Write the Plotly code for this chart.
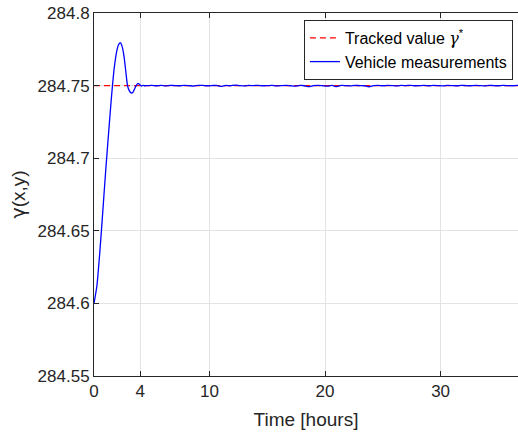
import plotly.graph_objects as go

# ---- data ----
tracked_time = [0.0, 36.7]
tracked_value = [284.75, 284.75]

transient_time = [0.0, 0.25, 0.5, 0.75, 1.0, 1.25, 1.5, 1.75, 2.0, 2.15, 2.3, 2.45,
                  2.6, 2.75, 2.9, 3.05, 3.2, 3.35, 3.5, 3.65, 3.8, 3.95, 4.1, 4.25, 4.4]
transient_gamma = [284.600, 284.612, 284.635, 284.662, 284.690, 284.716, 284.741, 284.762,
                   284.775, 284.7785, 284.7795, 284.7765, 284.770, 284.760, 284.750,
                   284.7465, 284.745, 284.7452, 284.7475, 284.750, 284.7515, 284.7508,
                   284.7497, 284.7502, 284.7499]

settle_time = [4.6, 5.0, 5.4, 5.8, 6.2, 6.6, 7.0, 7.4, 7.8, 8.2, 8.6, 9.0, 9.4, 9.8,
               10.2, 10.6, 11.0, 11.4, 11.8, 12.2, 12.6, 13.0, 13.4, 13.8, 14.2, 14.6,
               15.0, 15.4, 15.8, 16.2, 16.6, 17.0, 17.4, 17.8, 18.2, 18.6, 19.0, 19.4,
               19.8, 20.2, 20.6, 21.0, 21.4, 21.8, 22.2, 22.6, 23.0, 23.4, 23.8, 24.2,
               24.6, 25.0, 25.4, 25.8, 26.2, 26.6, 27.0, 27.4, 27.8, 28.2, 28.6, 29.0,
               29.4, 29.8, 30.2, 30.6, 31.0, 31.4, 31.8, 32.2, 32.6, 33.0, 33.4, 33.8,
               34.2, 34.6, 35.0, 35.4, 35.8, 36.2, 36.6, 37.0]
settle_gamma = [284.7500, 284.7502, 284.7499, 284.7501, 284.7498, 284.7502, 284.7500,
                284.7499, 284.7502, 284.7500, 284.7497, 284.7501, 284.7502, 284.7499,
                284.7500, 284.7502, 284.7494, 284.7501, 284.7499, 284.7503, 284.7500,
                284.7498, 284.7501, 284.7500, 284.7502, 284.7499, 284.7500, 284.7501,
                284.7498, 284.7500, 284.7502, 284.7499, 284.7496, 284.7501, 284.7499,
                284.7493, 284.7500, 284.7502, 284.7499, 284.7496, 284.7501, 284.7493,
                284.7501, 284.7500, 284.7498, 284.7502, 284.7500, 284.7499, 284.7492,
                284.7500, 284.7502, 284.7499, 284.7501, 284.7500, 284.7498, 284.7501,
                284.7500, 284.7502, 284.7499, 284.7500, 284.7501, 284.7499, 284.7502,
                284.7500, 284.7498, 284.7501, 284.7500, 284.7499, 284.7502, 284.7500,
                284.7499, 284.7501, 284.7500, 284.7498, 284.7502, 284.7500, 284.7499,
                284.7501, 284.7500, 284.7499, 284.7501, 284.7500]

x_ticks = [0, 4, 10, 20, 30]
y_ticks = [284.55, 284.6, 284.65, 284.7, 284.75, 284.8]
y_tick_labels = ["284.55", "284.6", "284.65", "284.7", "284.75", "284.8"]

vehicle_time = transient_time + settle_time
vehicle_gamma = transient_gamma + settle_gamma

FONT = "Liberation Sans, Arial, Helvetica, sans-serif"
GFONT = "DejaVu Serif, serif"
AX = "#262626"
GRID = "#e3e3e3"

fig = go.Figure()
fig.add_trace(go.Scatter(
    x=tracked_time, y=tracked_value, mode="lines",
    name="Tracked value <span style='font-family:DejaVu Serif'><i>γ</i></span><sup>*</sup>",
    line=dict(color="#ff0000", width=1.3, dash="6px,4px"),
))
fig.add_trace(go.Scatter(
    x=vehicle_time, y=vehicle_gamma, mode="lines",
    name="Vehicle measurements",
    line=dict(color="#0000ff", width=1.3, shape="spline", smoothing=0.6),
))

fig.update_layout(
    width=518, height=437,
    margin=dict(l=94, r=0, t=13, b=61),
    paper_bgcolor="white", plot_bgcolor="white",
    font=dict(family=FONT, size=17, color=AX),
    showlegend=True,
    legend=dict(
        x=0.988, y=0.981, xanchor="right", yanchor="top",
        bgcolor="white", bordercolor=AX, borderwidth=1,
        font=dict(family=FONT, size=16, color="#000000"),
        tracegroupgap=0, itemwidth=30,
    ),
    xaxis=dict(
        range=[0, 36.7], tickmode="array", tickvals=x_ticks,
        ticks="inside", ticklen=5, tickcolor=AX, tickwidth=1,
        showline=True, linecolor=AX, linewidth=1, mirror="ticks",
        showgrid=True, gridcolor=GRID, gridwidth=1, zeroline=False,
        tickfont=dict(family=FONT, size=17, color=AX),
        title=dict(text="Time [hours]", font=dict(family=FONT, size=19, color=AX), standoff=12),
    ),
    yaxis=dict(
        range=[284.55, 284.8], tickmode="array", tickvals=y_ticks, ticktext=y_tick_labels,
        ticks="inside", ticklen=5, tickcolor=AX, tickwidth=1,
        showline=True, linecolor=AX, linewidth=1, mirror=False,
        showgrid=True, gridcolor=GRID, gridwidth=1, zeroline=False,
        tickfont=dict(family=FONT, size=17, color=AX),
        title=dict(text="<span style='font-family:DejaVu Sans'>γ</span>(x,y)",
                   font=dict(family=FONT, size=19, color=AX), standoff=6),
    ),
)

fig.write_html("out.html")
